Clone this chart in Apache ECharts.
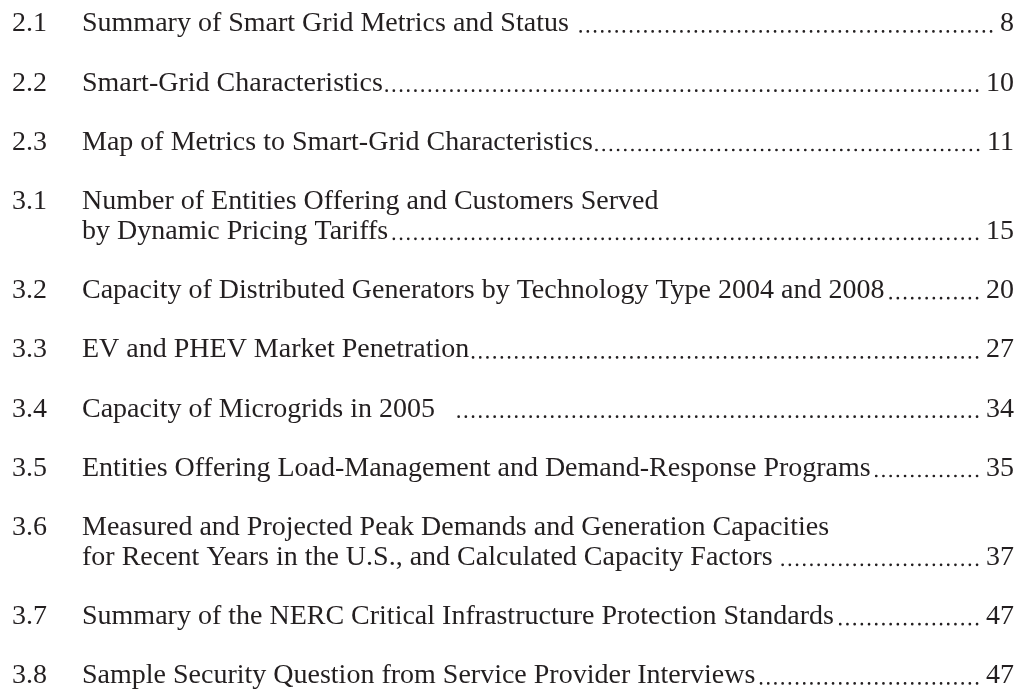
<!DOCTYPE html>
<html>
<head>
<meta charset="utf-8">
<script src="https://cdn.jsdelivr.net/npm/echarts@6/dist/echarts.min.js"></script>
<style>
  html, body { margin: 0; padding: 0; background: #fff; }
  #chart { width: 1027px; height: 694px; }
</style>
</head>
<body>
<div id="chart"></div>
<script>
// list of tables: number, title (one entry per printed line), page
const tableNumbers = ['2.1', '2.2', '2.3', '3.1', '3.2', '3.3', '3.4', '3.5', '3.6', '3.7', '3.8']
const tableTitles = [
  ['Summary of Smart Grid Metrics and Status '],
  ['Smart-Grid Characteristics'],
  ['Map of Metrics to Smart-Grid Characteristics'],
  ['Number of Entities Offering and Customers Served', 'by Dynamic Pricing Tariffs'],
  ['Capacity of Distributed Generators by Technology Type 2004 and 2008'],
  ['EV and PHEV Market Penetration'],
  ['Capacity of Microgrids in 2005  '],
  ['Entities Offering Load-Management and Demand-Response Programs'],
  ['Measured and Projected Peak Demands and Generation Capacities', 'for Recent Years in the U.S., and Calculated Capacity Factors'],
  ['Summary of the NERC Critical Infrastructure Protection Standards'],
  ['Sample Security Question from Service Provider Interviews'],
]
const pageNumbers = ['8', '10', '11', '15', '20', '27', '34', '35', '37', '47', '47']

const FONT = '28px "Liberation Serif", serif'
const TEXT_COLOR = '#231f20'
const NUM_X = 12
const TITLE_X = 82
const PAGE_RIGHT = 1014
const DOT_GAP = 7.2

const measure = document.createElement('canvas').getContext('2d')
measure.font = FONT
const textWidth = (s) => measure.measureText(s).width

// each entry takes its lines plus one blank line slot
const rows = []
let slot = 0
tableNumbers.forEach((num, i) => {
  rows.push([slot, i])
  slot += tableTitles[i].length + 1
})
const lastSlot = slot - 2

function renderItem(params, api) {
  const i = api.value(1)
  const base = api.coord([0, api.value(0)])[1]
  const unit = api.size([0, 1])[1]
  const lines = tableTitles[i]
  const children = []
  const txt = (x, y, s, align) => ({
    type: 'text',
    x,
    y: y - 9,
    style: { text: s, font: FONT, fill: TEXT_COLOR, align: align || 'left', verticalAlign: 'middle' },
  })
  children.push(txt(NUM_X, base, tableNumbers[i]))
  lines.forEach((l, k) => children.push(txt(TITLE_X, base + k * unit, l)))

  const lastY = base + (lines.length - 1) * unit
  const page = pageNumbers[i]
  children.push(txt(PAGE_RIGHT, lastY, page, 'right'))

  // leader dots
  const dotsEnd = PAGE_RIGHT - textWidth(page) - 9
  const titleEnd = TITLE_X + textWidth(lines[lines.length - 1]) + 3
  const n = Math.floor((dotsEnd - titleEnd) / DOT_GAP)
  children.push({
    type: 'line',
    shape: { x1: dotsEnd - n * DOT_GAP, y1: lastY - 1.6, x2: dotsEnd + 0.2, y2: lastY - 1.6 },
    style: { stroke: TEXT_COLOR, lineWidth: 2.6, lineCap: 'round', lineDash: [0.1, DOT_GAP - 0.1] },
  })
  return { type: 'group', children }
}

const chart = echarts.init(document.getElementById('chart'))
chart.setOption({
  animation: false,
  grid: { left: 0, right: 0, top: 33, bottom: 9 },
  xAxis: { type: 'value', min: 0, max: 1, show: false },
  yAxis: { type: 'value', min: 0, max: lastSlot, inverse: true, show: false },
  series: [
    {
      type: 'custom',
      silent: true,
      renderItem,
      data: rows,
    },
  ],
})
</script>
</body>
</html>
